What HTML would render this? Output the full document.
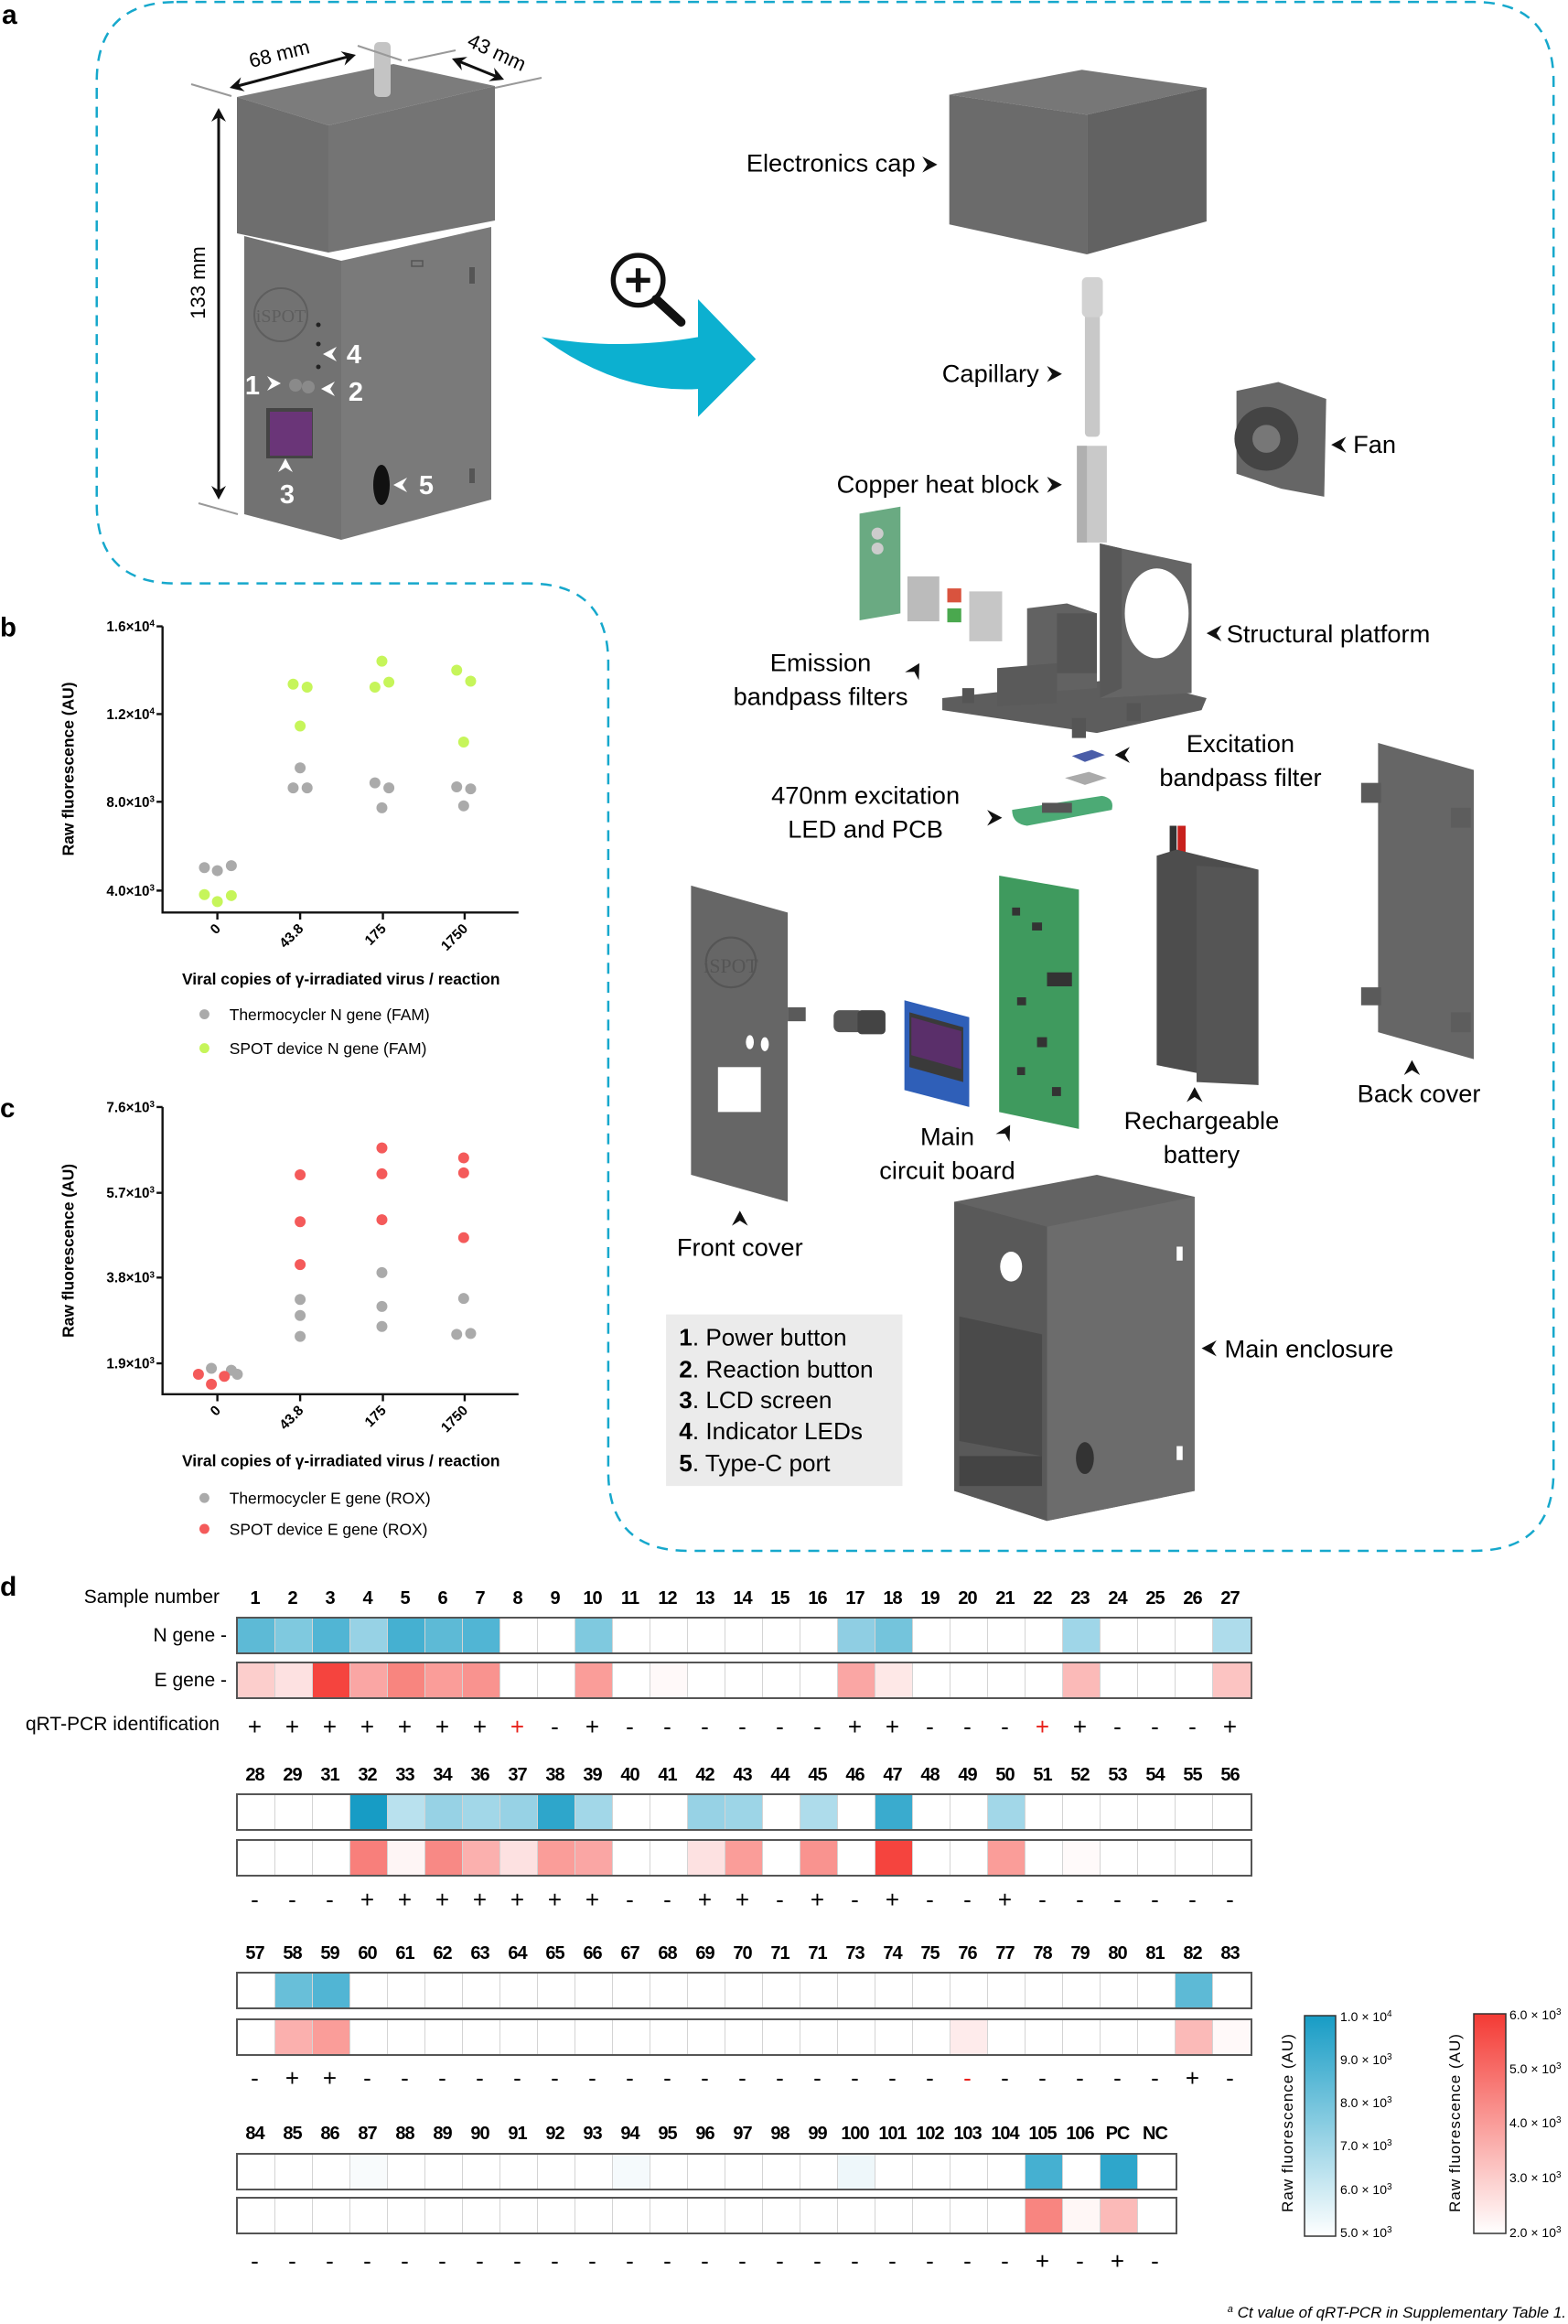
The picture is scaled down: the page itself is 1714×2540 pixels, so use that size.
<!DOCTYPE html>
<html><head><meta charset="utf-8">
<style>
html,body{margin:0;padding:0;background:#fff}
body{width:1714px;height:2539px;position:relative;overflow:hidden;font-family:"Liberation Sans",sans-serif}
.row{position:absolute;left:258px;height:41px;border:2px solid #555;display:flex;box-sizing:border-box}
.row i{display:block;width:41px;flex:none;height:100%;border-right:1px solid #d4d4d4;box-sizing:border-box}
.row i:last-child{border-right:none}
.nums,.sgn{position:absolute;left:258px;display:flex}
.nums span,.sgn span{display:block;width:41px;flex:none;text-align:center}
.nums{font-weight:bold;font-size:20px;letter-spacing:-1px;height:24px;line-height:24px}
.sgn{font-size:26px;height:30px;line-height:30px}
.r{color:#e8201a}
.lab{position:absolute;font-size:21px;text-align:right;white-space:nowrap}
</style></head><body>
<svg width="1714" height="1720" viewBox="0 0 1714 1720" style="position:absolute;left:0;top:0" font-family="Liberation Sans, sans-serif">
<defs>
<path id="ah" d="M0,0 L-15,-8 L-10,0 L-15,8 Z" fill="#111"/>
<path id="ahw" d="M0,0 L-15,-8 L-10,0 L-15,8 Z" fill="#fff"/>
</defs>
<text x="2" y="26" font-size="30" font-weight="bold">a</text>
<g transform="scale(1.09)">
<path d="M177,2 H1478 Q1558,2 1558,82 V1475 Q1558,1555 1478,1555 H690 Q610,1555 610,1475 V665 Q610,585 530,585 H177 Q97,585 97,505 V82 Q97,2 177,2 Z" fill="none" stroke="#16a8cc" stroke-width="2.3" stroke-dasharray="11 8"/>
<!-- big arrow -->
<path d="M543,338 Q620,352 700,338 L700,300 L758,360 L700,418 L700,390 Q620,395 543,338 Z" fill="#0cb0d0"/>
<circle cx="640" cy="281" r="25" fill="#fff" stroke="#111" stroke-width="5"/>
<path d="M628,281 H652 M640,269 V293" stroke="#111" stroke-width="5"/>
<path d="M658,300 L683,323" stroke="#111" stroke-width="9" stroke-linecap="round"/>
<!-- electronics cap -->
<polygon points="952,95 1085,70 1210,88 1090,115" fill="#777"/>
<polygon points="952,95 1090,115 1090,255 952,225" fill="#6b6b6b"/>
<polygon points="1090,115 1210,88 1210,222 1090,255" fill="#626262"/>
<text x="918" y="172" font-size="25" text-anchor="end">Electronics cap</text>
<use href="#ah" x="940" y="165"/>
<!-- capillary -->
<rect x="1088" y="278" width="15" height="160" fill="#c8c8c8" rx="4"/>
<rect x="1085" y="278" width="21" height="40" fill="#d2d2d2" rx="5"/>
<text x="1042" y="383" font-size="25" text-anchor="end">Capillary</text>
<use href="#ah" x="1065" y="375"/>
<!-- fan -->
<polygon points="1240,392 1282,383 1330,400 1328,498 1285,490 1240,475" fill="#666"/>
<circle cx="1270" cy="440" r="32" fill="#444"/><circle cx="1270" cy="440" r="14" fill="#777"/>
<use href="#ah" x="1335" y="446" transform="rotate(180 1342 446) translate(14 0)"/>
<text x="1357" y="454" font-size="25">Fan</text>
<!-- copper block -->
<rect x="1080" y="447" width="30" height="97" fill="#c9c9c9"/>
<rect x="1080" y="447" width="10" height="97" fill="#b0b0b0"/>
<text x="1042" y="494" font-size="25" text-anchor="end">Copper heat block</text>
<use href="#ah" x="1065" y="486"/>
<!-- emission parts -->
<polygon points="862,515 903,508 903,615 862,622" fill="#6aaa82"/>
<circle cx="880" cy="535" r="6" fill="#ccc"/><circle cx="880" cy="550" r="6" fill="#ccc"/>
<rect x="910" y="578" width="32" height="45" fill="#bbb"/>
<rect x="950" y="590" width="14" height="14" fill="#d9533e"/><rect x="950" y="610" width="14" height="14" fill="#4aa84e"/>
<rect x="972" y="593" width="33" height="50" fill="#c6c6c6"/>
<text x="823" y="673" font-size="25" text-anchor="middle">Emission</text>
<text x="823" y="707" font-size="25" text-anchor="middle">bandpass filters</text>
<use href="#ah" x="922" y="665" transform="rotate(-60 922 665)"/>
<!-- structural platform -->
<polygon points="945,700 1130,680 1210,700 1205,712 1100,735 945,712" fill="#5d5d5d"/>
<polygon points="1103,545 1125,550 1195,565 1195,695 1103,700" fill="#656565"/>
<polygon points="1103,545 1125,550 1125,690 1103,700" fill="#585858"/>
<ellipse cx="1160" cy="615" rx="32" ry="45" fill="#fff"/>
<polygon points="1030,610 1070,605 1100,615 1100,690 1030,695" fill="#626262"/>
<polygon points="1000,670 1060,665 1060,705 1000,708" fill="#5a5a5a"/>
<rect x="1060" y="615" width="40" height="60" fill="#555"/>
<rect x="965" y="690" width="12" height="15" fill="#555"/>
<rect x="1075" y="720" width="14" height="20" fill="#555"/>
<rect x="1130" y="705" width="14" height="18" fill="#555"/>
<use href="#ah" x="1210" y="635" transform="rotate(180 1217 635) translate(14 0)"/>
<text x="1230" y="644" font-size="25">Structural platform</text>
<!-- excitation filters -->
<polygon points="1075,758 1095,752 1108,757 1088,764" fill="#4a5da8"/>
<polygon points="1068,780 1092,774 1110,780 1088,787" fill="#aaa"/>
<use href="#ah" x="1118" y="757" transform="rotate(180 1125 757) translate(14 0)"/>
<text x="1244" y="754" font-size="25" text-anchor="middle">Excitation</text>
<text x="1244" y="788" font-size="25" text-anchor="middle">bandpass filter</text>
<!-- LED PCB -->
<path d="M1015,812 L1105,798 Q1118,800 1115,812 L1030,828 Q1015,826 1015,812 Z" fill="#4caa75"/>
<rect x="1045" y="805" width="30" height="10" fill="#555"/>
<text x="868" y="806" font-size="25" text-anchor="middle">470nm excitation</text>
<text x="868" y="840" font-size="25" text-anchor="middle">LED and PCB</text>
<use href="#ah" x="1005" y="820"/>
<!-- back cover -->
<polygon points="1382,745 1478,772 1478,1062 1382,1035" fill="#666"/>
<rect x="1365" y="785" width="20" height="20" fill="#5a5a5a"/><rect x="1365" y="990" width="20" height="18" fill="#5a5a5a"/>
<rect x="1455" y="810" width="20" height="20" fill="#5d5d5d"/><rect x="1455" y="1015" width="20" height="20" fill="#5d5d5d"/>
<use href="#ah" x="1416" y="1063" transform="rotate(-90 1416 1063)"/>
<text x="1423" y="1105" font-size="25" text-anchor="middle">Back cover</text>
<!-- battery -->
<rect x="1173" y="828" width="7" height="30" fill="#333"/><rect x="1181" y="828" width="8" height="30" fill="#c8201c"/>
<polygon points="1160,858 1180,852 1262,872 1262,1088 1160,1068" fill="#4d4d4d"/>
<polygon points="1200,868 1262,872 1262,1088 1200,1085" fill="#555"/>
<use href="#ah" x="1198" y="1090" transform="rotate(-90 1198 1090)"/>
<text x="1205" y="1132" font-size="25" text-anchor="middle">Rechargeable</text>
<text x="1205" y="1166" font-size="25" text-anchor="middle">battery</text>
<!-- main circuit board -->
<polygon points="1002,878 1082,892 1082,1132 1002,1115" fill="#3f9a5e"/>
<g fill="#333"><rect x="1015" y="910" width="8" height="8"/><rect x="1035" y="925" width="10" height="8"/><rect x="1050" y="975" width="25" height="14"/><rect x="1020" y="1000" width="9" height="8"/><rect x="1040" y="1040" width="10" height="10"/><rect x="1020" y="1070" width="8" height="8"/><rect x="1055" y="1090" width="9" height="9"/></g>
<polygon points="907,1003 972,1020 972,1110 907,1093" fill="#2f5fb8"/>
<polygon points="912,1015 966,1030 966,1085 912,1070" fill="#3a3a3a"/>
<polygon points="914,1020 964,1034 964,1072 914,1058" fill="#5a2f6a"/>
<rect x="836" y="1013" width="30" height="22" rx="6" fill="#555"/><rect x="860" y="1013" width="28" height="24" rx="4" fill="#444"/>
<text x="950" y="1148" font-size="25" text-anchor="middle">Main</text>
<text x="950" y="1182" font-size="25" text-anchor="middle">circuit board</text>
<use href="#ah" x="1013" y="1128" transform="rotate(-60 1013 1128)"/>
<!-- front cover -->
<polygon points="693,888 790,915 790,1205 693,1178" fill="#666"/>
<circle cx="733" cy="965" r="25" fill="none" stroke="#555" stroke-width="2"/>
<text x="733" y="975" font-size="20" font-family="Liberation Serif, serif" fill="#555" text-anchor="middle">iSPOT</text>
<rect x="720" y="1070" width="43" height="45" fill="#fff"/>
<ellipse cx="752" cy="1045" rx="4" ry="7" fill="#fff"/><ellipse cx="767" cy="1047" rx="4" ry="7" fill="#fff"/>
<rect x="790" y="1010" width="18" height="14" fill="#5a5a5a"/>
<use href="#ah" x="742" y="1214" transform="rotate(-90 742 1214)"/>
<text x="742" y="1259" font-size="25" text-anchor="middle">Front cover</text>
<!-- main enclosure -->
<polygon points="957,1205 1100,1178 1198,1200 1198,1495 1050,1525 957,1495" fill="#636363"/>
<polygon points="1050,1230 1198,1200 1198,1495 1050,1525" fill="#6c6c6c"/>
<polygon points="957,1205 1050,1230 1050,1525 957,1495" fill="#595959"/>
<polygon points="962,1320 1045,1338 1045,1460 962,1445" fill="#4a4a4a"/>
<rect x="962" y="1460" width="83" height="30" fill="#444"/>
<ellipse cx="1014" cy="1270" rx="11" ry="15" fill="#fff"/>
<ellipse cx="1088" cy="1462" rx="9" ry="16" fill="#333"/>
<rect x="1180" y="1250" width="6" height="14" fill="#fff"/><rect x="1180" y="1450" width="6" height="14" fill="#fff"/>
<use href="#ah" x="1205" y="1352" transform="rotate(180 1212 1352) translate(14 0)"/>
<text x="1228" y="1361" font-size="25">Main enclosure</text>
<!-- legend -->
<rect x="668" y="1318" width="237" height="172" fill="#ebebeb"/>
<g font-size="24"><text x="681" y="1349"><tspan font-weight="bold">1</tspan>. Power button</text>
<text x="681" y="1381"><tspan font-weight="bold">2</tspan>. Reaction button</text>
<text x="681" y="1412"><tspan font-weight="bold">3</tspan>. LCD screen</text>
<text x="681" y="1443"><tspan font-weight="bold">4</tspan>. Indicator LEDs</text>
<text x="681" y="1475"><tspan font-weight="bold">5</tspan>. Type-C port</text></g>

<!-- panel b -->
<text x="0" y="638" font-size="27" font-weight="bold">b</text>
<path d="M163,628 V915 H520 M157,628 H163 M157,716 H163 M157,804 H163 M157,893 H163 M218,915 V922 M301,915 V922 M384,915 V922 M466,915 V922" stroke="#111" stroke-width="2.2" fill="none"/>
<g font-size="14" font-weight="bold" text-anchor="end"><text x="155" y="633">1.6×10<tspan dy="-5" font-size="9">4</tspan></text><text x="155" y="721">1.2×10<tspan dy="-5" font-size="9">4</tspan></text><text x="155" y="809">8.0×10<tspan dy="-5" font-size="9">3</tspan></text><text x="155" y="898">4.0×10<tspan dy="-5" font-size="9">3</tspan></text></g>
<g font-size="14" font-weight="bold" text-anchor="end"><text transform="translate(222,932) rotate(-45)">0</text><text transform="translate(305,932) rotate(-45)">43.8</text><text transform="translate(388,932) rotate(-45)">175</text><text transform="translate(470,932) rotate(-45)">1750</text></g>
<text transform="translate(74,771) rotate(-90)" font-size="16" font-weight="bold" text-anchor="middle">Raw fluorescence (AU)</text>
<text x="342" y="987" font-size="16" font-weight="bold" text-anchor="middle">Viral copies of γ-irradiated virus / reaction</text>
<g fill="#aaa"><circle cx="205" cy="870" r="5.5"/><circle cx="218" cy="873" r="5.5"/><circle cx="232" cy="868" r="5.5"/><circle cx="301" cy="770" r="5.5"/><circle cx="294" cy="790" r="5.5"/><circle cx="308" cy="790" r="5.5"/><circle cx="376" cy="785" r="5.5"/><circle cx="390" cy="790" r="5.5"/><circle cx="383" cy="810" r="5.5"/><circle cx="458" cy="789" r="5.5"/><circle cx="472" cy="791" r="5.5"/><circle cx="465" cy="808" r="5.5"/><circle cx="205" cy="1017" r="5"/></g>
<g fill="#c6f55a"><circle cx="205" cy="897" r="5.5"/><circle cx="218" cy="904" r="5.5"/><circle cx="232" cy="898" r="5.5"/><circle cx="294" cy="686" r="5.5"/><circle cx="308" cy="689" r="5.5"/><circle cx="301" cy="728" r="5.5"/><circle cx="383" cy="663" r="5.5"/><circle cx="376" cy="689" r="5.5"/><circle cx="390" cy="684" r="5.5"/><circle cx="458" cy="672" r="5.5"/><circle cx="472" cy="683" r="5.5"/><circle cx="465" cy="744" r="5.5"/><circle cx="205" cy="1051" r="5"/></g>
<g font-size="16"><text x="230" y="1023">Thermocycler N gene (FAM)</text><text x="230" y="1057">SPOT device N gene (FAM)</text></g>

<!-- panel c -->
<text x="0" y="1120" font-size="27" font-weight="bold">c</text>
<path d="M163,1110 V1398 H520 M157,1110 H163 M157,1196 H163 M157,1281 H163 M157,1367 H163 M218,1398 V1405 M301,1398 V1405 M384,1398 V1405 M466,1398 V1405" stroke="#111" stroke-width="2.2" fill="none"/>
<g font-size="14" font-weight="bold" text-anchor="end"><text x="155" y="1115">7.6×10<tspan dy="-5" font-size="9">3</tspan></text><text x="155" y="1201">5.7×10<tspan dy="-5" font-size="9">3</tspan></text><text x="155" y="1286">3.8×10<tspan dy="-5" font-size="9">3</tspan></text><text x="155" y="1372">1.9×10<tspan dy="-5" font-size="9">3</tspan></text></g>
<g font-size="14" font-weight="bold" text-anchor="end"><text transform="translate(222,1415) rotate(-45)">0</text><text transform="translate(305,1415) rotate(-45)">43.8</text><text transform="translate(388,1415) rotate(-45)">175</text><text transform="translate(470,1415) rotate(-45)">1750</text></g>
<text transform="translate(74,1254) rotate(-90)" font-size="16" font-weight="bold" text-anchor="middle">Raw fluorescence (AU)</text>
<text x="342" y="1470" font-size="16" font-weight="bold" text-anchor="middle">Viral copies of γ-irradiated virus / reaction</text>
<g fill="#aaa"><circle cx="212" cy="1372" r="5.5"/><circle cx="232" cy="1374" r="5.5"/><circle cx="238" cy="1378" r="5.5"/><circle cx="301" cy="1303" r="5.5"/><circle cx="301" cy="1319" r="5.5"/><circle cx="301" cy="1340" r="5.5"/><circle cx="383" cy="1276" r="5.5"/><circle cx="383" cy="1310" r="5.5"/><circle cx="383" cy="1330" r="5.5"/><circle cx="465" cy="1302" r="5.5"/><circle cx="458" cy="1338" r="5.5"/><circle cx="472" cy="1337" r="5.5"/><circle cx="205" cy="1502" r="5"/></g>
<g fill="#f45a5a"><circle cx="199" cy="1378" r="5.5"/><circle cx="212" cy="1388" r="5.5"/><circle cx="225" cy="1380" r="5.5"/><circle cx="301" cy="1178" r="5.5"/><circle cx="301" cy="1225" r="5.5"/><circle cx="301" cy="1268" r="5.5"/><circle cx="383" cy="1151" r="5.5"/><circle cx="383" cy="1177" r="5.5"/><circle cx="383" cy="1223" r="5.5"/><circle cx="465" cy="1161" r="5.5"/><circle cx="465" cy="1176" r="5.5"/><circle cx="465" cy="1241" r="5.5"/><circle cx="205" cy="1533" r="5"/></g>
<g font-size="16"><text x="230" y="1508">Thermocycler E gene (ROX)</text><text x="230" y="1539">SPOT device E gene (ROX)</text></g>
</g>

<!-- device (original coords) -->
<polygon points="259,106 430,70 541,94 359,137" fill="#7c7c7c"/>
<polygon points="259,106 359,137 359,276 259,255" fill="#6e6e6e"/>
<polygon points="359,137 541,94 541,241 359,276" fill="#747474"/>
<rect x="409" y="46" width="18" height="60" rx="5" fill="#c4c4c4"/>
<polygon points="267,258 373,285 373,590 267,562" fill="#727272"/>
<polygon points="373,285 537,248 537,546 373,590" fill="#7a7a7a"/>
<circle cx="307" cy="344" r="29" fill="none" stroke="#5e5e5e" stroke-width="2"/>
<text x="307" y="352" font-size="20" font-family="Liberation Serif, serif" fill="#5e5e5e" text-anchor="middle">iSPOT</text>
<rect x="291" y="446" width="51" height="55" fill="#444"/><rect x="295" y="450" width="46" height="48" fill="#6a3578"/>
<circle cx="323" cy="421" r="7" fill="#8a8a8a"/><circle cx="337" cy="423" r="7" fill="#8a8a8a"/>
<circle cx="348" cy="355" r="2.5" fill="#222"/><circle cx="348" cy="376" r="2.5" fill="#222"/><circle cx="348" cy="401" r="2.5" fill="#222"/>
<ellipse cx="417" cy="530" rx="9" ry="22" fill="#111"/>
<rect x="450" y="285" width="12" height="6" fill="none" stroke="#555" stroke-width="1.5"/>
<rect x="513" y="292" width="6" height="18" fill="#555"/><rect x="513" y="512" width="6" height="16" fill="#555"/>
<!-- dims -->
<path d="M209,92 L253,105" stroke="#999" stroke-width="2"/><path d="M217,550 L260,562" stroke="#999" stroke-width="2"/>
<path d="M391,50 L439,66 M446,66 L498,55 M541,96 L592,85" stroke="#999" stroke-width="2"/>
<path d="M256,95 L384,61" stroke="#111" stroke-width="3"/><use href="#ah" x="389" y="60" transform="rotate(-15 389 60)"/><use href="#ah" x="251" y="96" transform="rotate(165 251 96)"/>
<path d="M499,66 L546,85" stroke="#111" stroke-width="3"/><use href="#ah" x="551" y="87" transform="rotate(22 551 87)"/><use href="#ah" x="494" y="64" transform="rotate(202 494 64)"/>
<path d="M239,125 V539" stroke="#111" stroke-width="3"/><use href="#ah" x="239" y="118" transform="rotate(-90 239 118)"/><use href="#ah" x="239" y="546" transform="rotate(90 239 546)"/>
<text transform="translate(307,66) rotate(-14)" font-size="22" text-anchor="middle">68 mm</text>
<text transform="translate(540,64) rotate(25)" font-size="22" text-anchor="middle">43 mm</text>
<text transform="translate(224,309) rotate(-90)" font-size="22" text-anchor="middle">133 mm</text>
<g fill="#fff" font-size="29" font-weight="bold" text-anchor="middle">
<text x="387" y="397">4</text><text x="389" y="438">2</text><text x="276" y="431">1</text><text x="314" y="550">3</text><text x="466" y="540">5</text></g>
<use href="#ahw" x="353" y="387" transform="rotate(180 353 387)"/>
<use href="#ahw" x="351" y="425" transform="rotate(180 351 425)"/>
<use href="#ahw" x="307" y="419"/>
<use href="#ahw" x="312" y="501" transform="rotate(-90 312 501)"/>
<use href="#ahw" x="430" y="530" transform="rotate(180 430 530)"/>
</svg>

<!-- panel d -->
<div style="position:absolute;left:0;top:1718px;font-size:30px;font-weight:bold">d</div>
<div class="lab" style="right:1474px;top:1734px">Sample number</div>
<div class="lab" style="right:1466px;top:1776px">N gene -</div>
<div class="lab" style="right:1466px;top:1825px">E gene -</div>
<div class="lab" style="right:1474px;top:1873px">qRT-PCR identification</div>

<div class="nums" style="top:1735px"><span>1</span><span>2</span><span>3</span><span>4</span><span>5</span><span>6</span><span>7</span><span>8</span><span>9</span><span>10</span><span>11</span><span>12</span><span>13</span><span>14</span><span>15</span><span>16</span><span>17</span><span>18</span><span>19</span><span>20</span><span>21</span><span>22</span><span>23</span><span>24</span><span>25</span><span>26</span><span>27</span></div>
<div class="row" style="top:1767px;width:1111px"><i style="background:#5dbad6"></i><i style="background:#7fc9df"></i><i style="background:#51b5d4"></i><i style="background:#97d2e5"></i><i style="background:#45b0d1"></i><i style="background:#5dbad6"></i><i style="background:#51b5d4"></i><i></i><i></i><i style="background:#7fc9df"></i><i></i><i></i><i></i><i></i><i></i><i></i><i style="background:#8fcee3"></i><i style="background:#74c4dc"></i><i></i><i></i><i></i><i></i><i style="background:#9fd6e8"></i><i></i><i></i><i></i><i style="background:#aedceb"></i></div>
<div class="row" style="top:1816px;width:1111px"><i style="background:#fccecc"></i><i style="background:#fde1e1"></i><i style="background:#f5443e"></i><i style="background:#faa6a4"></i><i style="background:#f8857f"></i><i style="background:#fa9d99"></i><i style="background:#f9938f"></i><i></i><i></i><i style="background:#fa9d99"></i><i></i><i style="background:#fff9f9"></i><i></i><i></i><i></i><i></i><i style="background:#faa6a4"></i><i style="background:#fee8e7"></i><i></i><i></i><i></i><i></i><i style="background:#fbbab8"></i><i></i><i></i><i></i><i style="background:#fcc4c2"></i></div>
<div class="sgn" style="top:1872px"><span>+</span><span>+</span><span>+</span><span>+</span><span>+</span><span>+</span><span>+</span><span class="r">+</span><span>-</span><span>+</span><span>-</span><span>-</span><span>-</span><span>-</span><span>-</span><span>-</span><span>+</span><span>+</span><span>-</span><span>-</span><span>-</span><span class="r">+</span><span>+</span><span>-</span><span>-</span><span>-</span><span>+</span></div>

<div class="nums" style="top:1928px"><span>28</span><span>29</span><span>31</span><span>32</span><span>33</span><span>34</span><span>36</span><span>37</span><span>38</span><span>39</span><span>40</span><span>41</span><span>42</span><span>43</span><span>44</span><span>45</span><span>46</span><span>47</span><span>48</span><span>49</span><span>50</span><span>51</span><span>52</span><span>53</span><span>54</span><span>55</span><span>56</span></div>
<div class="row" style="top:1960px;width:1111px"><i></i><i></i><i></i><i style="background:#179cc5"></i><i style="background:#b9e1ee"></i><i style="background:#97d2e5"></i><i style="background:#a2d7e8"></i><i style="background:#97d2e5"></i><i style="background:#2ea6cb"></i><i style="background:#a2d7e8"></i><i></i><i></i><i style="background:#97d2e5"></i><i style="background:#9dd5e7"></i><i></i><i style="background:#aedceb"></i><i></i><i style="background:#3aabce"></i><i></i><i></i><i style="background:#a2d7e8"></i><i></i><i></i><i></i><i></i><i></i><i></i></div>
<div class="row" style="top:2010px;width:1111px"><i></i><i></i><i></i><i style="background:#f87f7b"></i><i style="background:#fef5f5"></i><i style="background:#f88985"></i><i style="background:#fbb0ae"></i><i style="background:#fde1e1"></i><i style="background:#fa9d99"></i><i style="background:#faa6a4"></i><i></i><i></i><i style="background:#fde1e1"></i><i style="background:#fa9d99"></i><i></i><i style="background:#f9938f"></i><i></i><i style="background:#f5443e"></i><i></i><i></i><i style="background:#fa9d99"></i><i></i><i style="background:#fffafa"></i><i></i><i></i><i></i><i></i></div>
<div class="sgn" style="top:2061px"><span>-</span><span>-</span><span>-</span><span>+</span><span>+</span><span>+</span><span>+</span><span>+</span><span>+</span><span>+</span><span>-</span><span>-</span><span>+</span><span>+</span><span>-</span><span>+</span><span>-</span><span>+</span><span>-</span><span>-</span><span>+</span><span>-</span><span>-</span><span>-</span><span>-</span><span>-</span><span>-</span></div>

<div class="nums" style="top:2123px"><span>57</span><span>58</span><span>59</span><span>60</span><span>61</span><span>62</span><span>63</span><span>64</span><span>65</span><span>66</span><span>67</span><span>68</span><span>69</span><span>70</span><span>71</span><span>71</span><span>73</span><span>74</span><span>75</span><span>76</span><span>77</span><span>78</span><span>79</span><span>80</span><span>81</span><span>82</span><span>83</span></div>
<div class="row" style="top:2155px;width:1111px"><i></i><i style="background:#68bfd9"></i><i style="background:#51b5d4"></i><i></i><i></i><i></i><i></i><i></i><i></i><i></i><i></i><i></i><i></i><i></i><i></i><i></i><i></i><i></i><i></i><i></i><i></i><i></i><i></i><i></i><i></i><i style="background:#5dbad6"></i><i></i></div>
<div class="row" style="top:2206px;width:1111px"><i></i><i style="background:#fbb0ae"></i><i style="background:#fa9d99"></i><i></i><i></i><i></i><i></i><i></i><i></i><i></i><i></i><i></i><i></i><i></i><i></i><i></i><i></i><i></i><i></i><i style="background:#feebeb"></i><i></i><i></i><i></i><i></i><i></i><i style="background:#fbbab8"></i><i style="background:#fff9f9"></i></div>
<div class="sgn" style="top:2256px"><span>-</span><span>+</span><span>+</span><span>-</span><span>-</span><span>-</span><span>-</span><span>-</span><span>-</span><span>-</span><span>-</span><span>-</span><span>-</span><span>-</span><span>-</span><span>-</span><span>-</span><span>-</span><span>-</span><span class="r">-</span><span>-</span><span>-</span><span>-</span><span>-</span><span>-</span><span>+</span><span>-</span></div>

<div class="nums" style="top:2320px"><span>84</span><span>85</span><span>86</span><span>87</span><span>88</span><span>89</span><span>90</span><span>91</span><span>92</span><span>93</span><span>94</span><span>95</span><span>96</span><span>97</span><span>98</span><span>99</span><span>100</span><span>101</span><span>102</span><span>103</span><span>104</span><span>105</span><span>106</span><span>PC</span><span>NC</span></div>
<div class="row" style="top:2353px;width:1029px"><i></i><i></i><i></i><i style="background:#f8fbfc"></i><i></i><i></i><i></i><i></i><i></i><i></i><i style="background:#f5fafc"></i><i></i><i></i><i></i><i></i><i></i><i style="background:#eef7fa"></i><i></i><i></i><i></i><i></i><i style="background:#45b0d1"></i><i></i><i style="background:#2ea6cb"></i><i></i></div>
<div class="row" style="top:2401px;width:1029px"><i></i><i></i><i></i><i></i><i></i><i></i><i></i><i></i><i></i><i></i><i></i><i></i><i></i><i></i><i></i><i></i><i></i><i></i><i></i><i></i><i></i><i style="background:#f88580"></i><i style="background:#fff7f6"></i><i style="background:#fbbab8"></i><i></i></div>
<div class="sgn" style="top:2456px"><span>-</span><span>-</span><span>-</span><span>-</span><span>-</span><span>-</span><span>-</span><span>-</span><span>-</span><span>-</span><span>-</span><span>-</span><span>-</span><span>-</span><span>-</span><span>-</span><span>-</span><span>-</span><span>-</span><span>-</span><span>-</span><span>+</span><span>-</span><span>+</span><span>-</span></div>

<svg width="1714" height="360" viewBox="0 2180 1714 360" style="position:absolute;left:0;top:2180px" font-family="Liberation Sans, sans-serif">
<defs>
<linearGradient id="gb" x1="0" y1="0" x2="0" y2="1"><stop offset="0" stop-color="#179cc5"/><stop offset="1" stop-color="#fff"/></linearGradient>
<linearGradient id="gr" x1="0" y1="0" x2="0" y2="1"><stop offset="0" stop-color="#f43a34"/><stop offset="1" stop-color="#fff"/></linearGradient>
</defs>
<rect x="1426" y="2203" width="34" height="241" fill="url(#gb)" stroke="#333" stroke-width="1.5"/>
<rect x="1611" y="2201" width="35" height="240" fill="url(#gr)" stroke="#333" stroke-width="1.5"/>
<g font-size="14"><text x="1465" y="2209">1.0 × 10<tspan dy="-5" font-size="10">4</tspan></text><text x="1465" y="2256">9.0 × 10<tspan dy="-5" font-size="10">3</tspan></text><text x="1465" y="2303">8.0 × 10<tspan dy="-5" font-size="10">3</tspan></text><text x="1465" y="2350">7.0 × 10<tspan dy="-5" font-size="10">3</tspan></text><text x="1465" y="2398">6.0 × 10<tspan dy="-5" font-size="10">3</tspan></text><text x="1465" y="2445">5.0 × 10<tspan dy="-5" font-size="10">3</tspan></text>
<text x="1650" y="2207">6.0 × 10<tspan dy="-5" font-size="10">3</tspan></text><text x="1650" y="2266">5.0 × 10<tspan dy="-5" font-size="10">3</tspan></text><text x="1650" y="2325">4.0 × 10<tspan dy="-5" font-size="10">3</tspan></text><text x="1650" y="2385">3.0 × 10<tspan dy="-5" font-size="10">3</tspan></text><text x="1650" y="2445">2.0 × 10<tspan dy="-5" font-size="10">3</tspan></text></g>
<text transform="translate(1413,2320) rotate(-90)" font-size="17" text-anchor="middle" letter-spacing="1">Raw fluorescence (AU)</text>
<text transform="translate(1596,2320) rotate(-90)" font-size="17" text-anchor="middle" letter-spacing="1">Raw fluorescence (AU)</text>
<text x="1712" y="2533" font-size="17" font-style="italic" text-anchor="end"><tspan font-size="11" dy="-6">a</tspan><tspan dy="6"> Ct value of qRT-PCR in Supplementary Table 1.</tspan></text>
</svg>
</body></html>
